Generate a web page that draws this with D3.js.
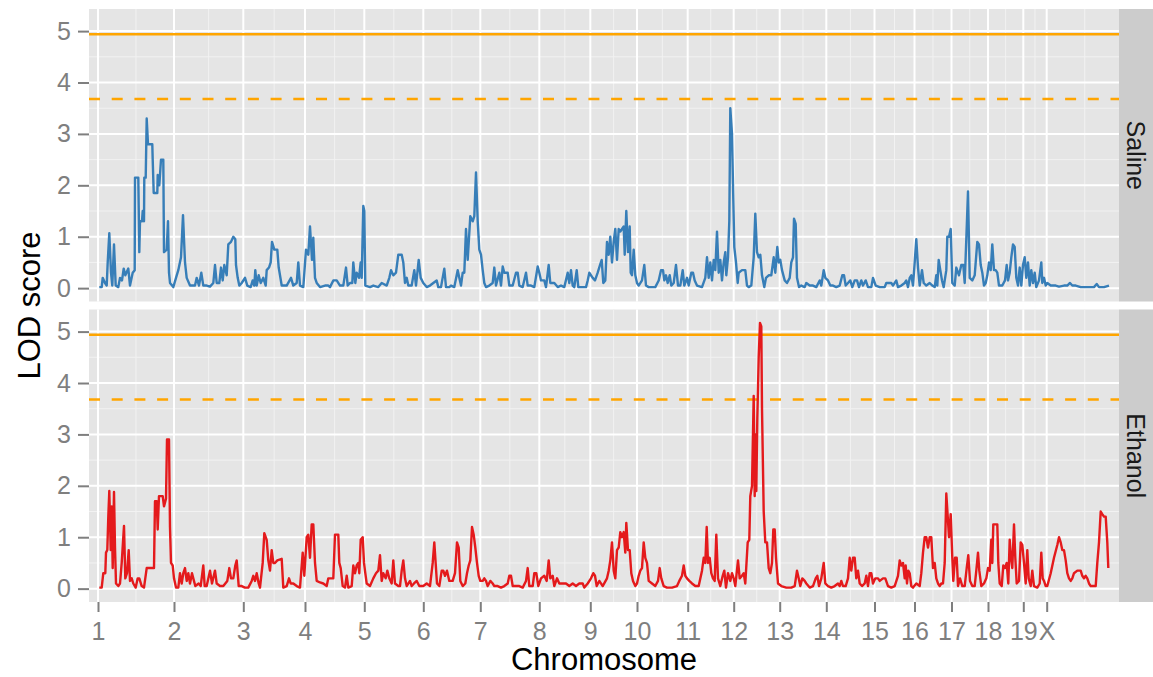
<!DOCTYPE html>
<html>
<head>
<meta charset="utf-8">
<script src="https://cdn.jsdelivr.net/npm/d3@7"></script>
<style>
  body { margin: 0; background: #fff; }
  text { font-family: "Liberation Sans", Arial, Helvetica, sans-serif; }
</style>
</head>
<body>
<svg id="chart"></svg>
<script>
// chromosome names and genetic lengths (cM), in plotting order
const chromosomes = ['1', '2', '3', '4', '5', '6', '7', '8', '9', '10', '11', '12', '13', '14', '15', '16', '17', '18', '19', 'X'];
const chrLengths = [76, 69.3, 61.7, 59.3, 59, 57, 59, 51, 46.7, 50.7, 46, 46, 46.6, 48.2, 40, 37, 36.5, 35.3, 23.4, 62.5];

const yTicks = [0, 1, 2, 3, 4, 5];
// genome-wide significance thresholds (solid = 5%, dashed = 20%)
const thresholdLevels = [4.94, 3.68];

// genome scan, [genome position (cM), LOD]
const salineScan = [
  [1.3,0.02],[3.7,0.02],[4.7,0.2],[7,0.1],[8.7,0.05],[9.7,0.5],[11.3,1.07],[13,0.3],[14.3,0.05],[16,0.85],[17.7,0.05],[20.3,0.02],[22,0.2],[24,0.15],[25.7,0.38],[27.3,0.25],[30.3,0.38],[32,0.05],[34.7,0.3],[36.7,0.35],[37,2.15],[40.3,2.15],[41.3,0.7],[42,1.3],[44,1.3],[44.7,1.5],[46,1.3],[46.3,2.15],[47.7,2.15],[48.7,3.3],[50,2.8],[54.3,2.8],[54.7,2.5],[55.7,1.85],[59.3,1.85],[59.7,2.2],[61.3,2.0],[63,2.5],[65.3,2.5],[66,0.7],[68.7,0.75],[70,1.3],[71,0.3],[72,0.1],[75.3,0.02],[78,0.2],[80.3,0.35],[83,0.6],[85,1.42],[87,0.5],[88.7,0.2],[92,0.05],[97,0.05],[98.7,0.2],[101,0.05],[103.3,0.3],[105.3,0.05],[108.7,0.05],[112,0.03],[115.3,0.1],[117,0.45],[118.7,0.1],[121.3,0.1],[123,0.4],[124.7,0.15],[126.3,0.45],[128.7,0.25],[130.3,0.85],[133,0.9],[135.3,1.0],[137.3,0.95],[138,0.45],[139.7,0.2],[141.3,0.05],[143.7,0.1],[147,0.2],[149.3,0.05],[152.7,0.02],[154.7,0.15],[156.3,0.05],[157.3,0.35],[158.7,0.05],[160.7,0.25],[162.7,0.1],[165.3,0.2],[167.7,0.05],[168.7,0.35],[171,0.4],[172.7,0.5],[174,0.9],[176.3,0.75],[179.3,0.75],[180.7,0.4],[183.7,0.05],[188.7,0.05],[193,0.2],[195.3,0.05],[198.7,0.1],[200.3,0.5],[202,0.05],[205.3,0.02],[208,0.75],[210.3,0.65],[212,1.2],[214,0.55],[215.3,0.98],[217,0.2],[218.7,0.1],[222,0.02],[227,0.05],[230.3,0.05],[232,0.02],[235.3,0.15],[238.7,0.15],[242,0.05],[245.3,0.05],[248,0.4],[249.7,0.05],[252,0.1],[254.3,0.1],[255.3,0.5],[257.3,0.1],[258.7,0.3],[261,0.2],[262.7,0.5],[263.7,0.2],[265.3,1.6],[266.3,1.5],[267.3,0.05],[272,0.02],[275.3,0.05],[280.3,0.02],[283.7,0.1],[288.7,0.05],[291.3,0.2],[293,0.35],[295.3,0.25],[298,0.3],[300.3,0.65],
  [303.7,0.65],[305.3,0.5],[307,0.1],[308.7,0.2],[310.3,0.05],[313.7,0.05],[316.3,0.35],[318,0.05],[320.7,0.55],[322.7,0.2],[325.3,0.1],[328.7,0.02],[332,0.05],[335.3,0.1],
  [338.7,0.15],[340.3,0.02],[343,0.02],[346.3,0.38],[348,0.02],[351.3,0.02],[353,0.05],[356.3,0.02],[359.7,0.35],[361.3,0.2],[363,0.05],[364.7,0.3],[366.3,0.3],[368,1.15],[369.7,0.55],[372.3,1.4],[374.7,1.3],[376.3,1.4],[378,2.25],[379.7,1.3],[381.3,0.75],[383,0.65],[384.7,0.35],[386.3,0.1],[388,0.02],[391.3,0.05],[394.7,0.1],[396.3,0.4],[398,0.05],[401.3,0.3],[403,0.05],[404.7,0.42],[406.3,0.3],[409.7,0.3],[411.3,0.05],[414.7,0.05],[418,0.3],[419.7,0.3],[421.3,0.05],[424.7,0.02],[428,0.3],[429.7,0.05],[433,0.05],[436.3,0.02],[439.7,0.42],[441.3,0.3],[443,0.15],[446.3,0.15],[448,0.02],[450.7,0.45],[452.3,0.1],[456.3,0.1],[459.7,0.02],[463,0.05],[466.3,0.02],[469.7,0.3],[471.3,0.1],[473,0.35],[474.7,0.05],[476.3,0.02],[478.7,0.35],[480.3,0.02],[483,0.02],[488,0.02],[489.7,0.15],[491.3,0.3],[494.7,0.2],[497,0.15],[499.7,0.3],[502,0.45],[503.7,0.55],[505.3,0.1],[507.3,0.15],[509,0.9],
  [510.7,0.65],[512.3,1.0],[514,0.5],[515.7,0.9],[517.3,1.15],[519,0.55],[520.7,1.15],[522.3,1.1],[524,1.15],[525.7,1.2],[526.7,0.65],[528.3,1.5],[530,0.7],[531.7,1.2],[532.7,0.3],[534,0.25],[535.7,0.75],[537.3,0.25],[539,0.1],[540.7,0.05],[544,0.15],[546.3,0.45],[548,0.05],[550.7,0.02],[557.3,0.02],[560.7,0.15],[563,0.35],[565,0.35],[566.3,0.15],[568,0.25],[569.7,0.1],[571.7,0.25],[573.3,0.05],[575.7,0.1],[578,0.45],[580,0.05],[582.3,0.05],[584.7,0.35],[586.3,0.05],[589,0.2],[590.7,0.05],[593.3,0.3],[595,0.3],[596.7,0.15],[599,0.05],[604,0.02],[607.3,0.2],[609,0.6],[610.7,0.2],[612.3,0.5],[614,0.15],[615.7,0.55],[617.3,0.35],[619,1.1],[620.7,0.3],[622.3,0.55],[624,0.15],[625.7,0.5],[627.3,0.7],[628.3,0.25],[630,0.6],[631.3,1.3],[632.3,3.5],[634,3.0],[635,2.0],[636.3,0.8],[638,0.5],[639.7,0.1],[640.7,0.3],[644,0.35],[647.3,0.35],[649,0.05],[650.7,0.02],[653.3,0.05],[655.7,0.6],[657.3,1.45],[659,0.7],[660.7,0.6],[662.3,0.65],[664,0.25],[666.3,0.02],[668,0.2],[670.7,0.25],[673.3,0.25],[675.7,0.6],[677.3,0.3],
  [679.3,0.8],[680.7,0.5],[682.3,0.55],[684,0.35],[686.7,0.15],[689,0.1],[691.7,0.2],[693.3,0.5],[695,0.6],[696,1.35],[697.7,1.25],[699,0.2],[701,0.02],[703.3,0.05],[706.7,0.02],[708.3,0.1],[711.7,0.05],[715,0.05],[718.3,0.02],[721.7,0.15],[723.3,0.05],[725.7,0.35],[727.3,0.2],[730,0.15],[732.3,0.05],[735,0.05],[738.3,0.02],[741.7,0.05],[744.3,0.25],[746,0.25],[747.7,0.05],[750,0.1],[752.3,0.15],[754.3,0.02],[756.7,0.15],[759,0.15],[761,0.02],[763.3,0.15],[765,0.05],[767.7,0.15],[770,0.02],[773.3,0.02],[775,0.2],[777.7,0.05],[781.7,0.02],[786.7,0.02],[788.3,0.1],[793.3,0.1],[795,0.05],[798.3,0.15],[800,0.02],[803.3,0.05],[806.7,0.1],[808.3,0.15],[810,0.02],[811.7,0.2],[813.3,0.25],[815,0.05],[816.7,0.5],[818.3,0.95],[820,0.4],[821.7,0.05],[824,0.35],[825.7,0.1],[828.3,0.05],[831.7,0.1],[834.3,0.05],[836.7,0.02],[838.3,0.25],[839.3,0.05],[840.7,0.55],[842.3,0.35],[844,0.15],[845.7,0.02],[848.3,0.35],[849.3,1.0],
  [851,1.0],[852.7,1.15],[854.3,0.1],[856.7,0.05],[858.3,0.4],[861,0.25],[863.3,0.45],[865.3,0.45],[866.7,0.1],[868.3,0.95],[870,1.88],[871.7,0.2],[874.3,0.15],[876.7,0.25],[877.7,0.5],[879.3,0.9],[881,0.85],[882.7,0.45],[884.3,0.3],[886,0.05],[887.7,0.1],[889.3,0.25],[891,0.5],[892.7,0.35],[894.3,0.85],[896,0.35],[897.7,0.35],[899.3,0.3],[901,0.05],[904.3,0.05],[907,0.15],[908.7,0.45],[910,0.15],[911.7,0.3],[913.3,0.6],[915,0.85],[916.7,0.8],[918.3,0.2],[920,0.05],[921.7,0.4],[923.3,0.05],[925,0.45],[926.7,0.6],[928.3,0.2],[930,0.5],[931.7,0.05],[933.3,0.35],[935,0.1],[936.7,0.3],[938.3,0.02],[941,0.15],[943.3,0.5],[944.3,0.1],[946,0.2],[947.7,0.05],[949.3,0.1],[952.7,0.05],[957.7,0.05],[961,0.03],[966,0.05],[969.3,0.05],[972,0.1],[974.3,0.05],[977.7,0.05],[982.7,0.02],[992.7,0.02],[996,0.02],[998.7,0.08],[1001,0.02],[1006,0.02],[1011,0.05]
];

const ethanolScan = [
  [1.3,0.02],[3.7,0.02],[5.3,0.3],[7.3,0.3],[8,0.7],[9.3,0.75],[10.3,1.4],[11.3,1.9],[12.7,0.75],[13.7,1.6],[14.7,0.4],[16,1.88],[17,0.8],[18,0.1],[20.3,0.05],[22,0.1],[23.7,0.5],[26,1.22],[27.3,0.2],[29,0.3],[30.7,0.75],[32,0.15],[33.7,0.2],[35.3,0.1],[37.7,0.02],[39.7,0.2],[41.3,0.2],[43.7,0.05],[46,0.02],[48.7,0.4],[53.7,0.4],[56,0.4],[57,1.7],[58.7,1.7],[59.7,1.15],[61,1.8],[62.7,1.8],[64.7,1.8],[66,1.6],[68,1.75],[69,2.9],[71,2.9],[72,1.2],[73,0.5],[74.7,0.45],[76,0.2],[78,0.02],[80.3,0.02],[82,0.3],[83.7,0.1],[85.3,0.3],[87,0.4],[88.7,0.15],[90.3,0.3],[92,0.1],[94,0.3],[95.3,0.2],[97.3,0.05],[100.7,0.1],[102.7,0.05],[105.3,0.45],[106.7,0.05],[108.7,0.05],[112,0.35],[114,0.1],[117,0.35],[118.7,0.1],[122,0.05],[125.3,0.05],[129.3,0.15],[131.3,0.4],[133,0.2],[135.3,0.2],[137.3,0.45],[138.7,0.55],[140.7,0.05],[143.7,0.05],[147,0.02],[150.3,0.02],[153.7,0.15],[155.3,0.25],[157,0.15],[158.7,0.3],[160.7,0.1],[162,0.02],[164.7,0.5],[166.3,1.08],[168.7,0.95],[170.3,0.55],[172,0.35],[173.7,0.75],[175.3,0.5],[177,0.5],[179.3,0.55],[183.7,0.58],[185.3,0.02],[188.7,0.05],[191,0.2],[192.7,0.1],[195.3,0.1],[198.7,0.05],[202,0.02],[204.7,0.7],[206.3,0.25],[208.7,1.0],[210.3,1.05],[212,0.6],[213.7,1.25],[215.3,1.25],[217,0.5],[218.7,0.15],[222,0.12],[225.3,0.1],[228.7,0.05],[230.3,0.2],[233.7,0.2],[235.3,0.2],[237,1.05],[240.3,1.05],[241.3,0.5],[242.7,0.4],[244.7,0.05],[247,0.02],[248.7,0.25],[250.3,0.02],[253.7,0.05],[255.3,0.45],[257,0.3],[258.7,0.45],[260.3,0.5],[261.3,0.3],[262.7,0.95],[264.7,1.0],[266,0.5],[267.3,0.3],[268.7,0.1],[272,0.05],[275.3,0.2],[278,0.3],[280.3,0.35],[282,0.65],[283.7,0.15],[285.3,0.3],[287.7,0.2],[289.3,0.35],[291.3,0.2],[293.7,0.1],[295.3,0.55],[297,0.1],[300.3,0.05],
  [302,0.05],[303.7,0.35],[305.3,0.55],[307,0.2],[308.7,0.05],[312,0.15],[313.7,0.05],[316,0.1],[318.7,0.15],[321.3,0.05],[325.3,0.05],[328.7,0.1],[332,0.05],[334.7,0.5],[336.3,0.9],
  [339,0.1],[341.3,0.05],[343.7,0.35],[345.3,0.35],[347,0.25],[349,0.35],[351.3,0.15],[354.7,0.15],[357,0.3],[359,0.9],[360.7,0.8],[362.3,0.15],[364.7,0.05],[367.3,0.1],[369,0.3],[370.7,0.45],[372.3,0.55],[374,1.2],[375.7,1.05],[377.3,0.8],[379,0.5],[380.7,0.25],[382.3,0.15],[384.7,0.15],[386.3,0.2],[388,0.15],[389.7,0.05],[392.3,0.15],[394.7,0.1],[396.3,0.05],[399.7,0.05],[403,0.02],[406.3,0.05],[409.7,0.1],[411.3,0.25],[413,0.25],[414.7,0.05],[418,0.05],[421.3,0.05],[424.7,0.02],[428,0.15],[429.7,0.4],[431.3,0.05],[434.7,0.05],[436.3,0.3],[438.3,0.3],[440.3,0.05],[443,0.2],[446.3,0.25],[448.7,0.15],[450.7,0.55],[452.3,0.2],[454.7,0.25],[456.3,0.05],[459,0.2],[461.3,0.1],[464.7,0.1],[468,0.1],[471.3,0.05],[474.7,0.1],[478,0.05],[481.3,0.1],[484.7,0.1],[486.3,0.02],[489.7,0.1],[493,0.2],[495.3,0.3],[497,0.25],[498.7,0.05],[501.3,0.15],[504.7,0.05],
  [509,0.2],[510.7,0.35],[512.3,0.55],[514,0.9],[515.7,0.35],[517.3,0.2],[519,0.75],[520.7,0.8],[522.3,1.1],[524,1.0],[525.7,1.1],[527.3,0.7],[528.3,1.28],[530,0.75],[531.7,0.75],[533.3,0.3],[535,0.15],[537.3,0.05],[539,0.1],[540.7,0.25],[542.3,0.35],[544,0.4],[545.7,0.9],[547.3,0.6],[549,0.5],[550.7,0.15],[554,0.1],[557.3,0.05],[560,0.15],[561.7,0.4],[563.3,0.2],[565.7,0.05],[569,0.02],[574,0.02],[579,0.05],[581.3,0.15],[584,0.25],[585.7,0.45],[587.3,0.25],[589,0.2],[591.3,0.15],[594,0.1],[597.3,0.05],[600.7,0.05],[604,0.35],[605.7,0.6],[607.3,0.5],[608.7,1.2],[610,0.5],[611.7,0.6],[613.3,0.3],[615,0.2],[616.7,0.15],[618.3,1.05],[620,0.2],[622.3,0.05],[624.7,0.25],[626.3,0.35],[628,0.02],[630,0.3],[632.3,0.15],[634,0.3],[635.7,0.2],[637.3,0.05],[640,0.55],[641.7,0.2],[644,0.25],[645.7,0.3],[647.3,0.1],[649.7,0.9],[651.3,0.95],[652.3,1.8],[654,2.0],[655.7,3.75],[656.7,1.8],[657.3,3.0],[658.3,1.9],[659.3,3.3],[660.7,4.5],[662,5.17],[663.3,5.1],[664,3.5],[665.7,1.5],[667.3,0.9],[669,0.9],[670.7,0.4],[672.3,0.3],[674,0.5],[675.3,1.15],[676.7,1.15],[678,0.6],
  [680,0.1],[683.3,0.05],[688.3,0.02],[693.3,0.02],[696.7,0.05],[699,0.35],[700.7,0.2],[702.3,0.05],[704.3,0.2],[706.7,0.15],[708.3,0.1],[711.7,0.02],[715,0.05],[717.7,0.2],[719.3,0.25],[721,0.05],[723.3,0.2],[725.7,0.5],[727.3,0.1],[730,0.05],[733.3,0.02],[736.7,0.05],[740,0.1],[741.7,0.05],[743.3,0.15],[745,0.05],[747.7,0.05],[750,0.2],[751.7,0.6],[753.3,0.35],[755,0.6],[756.7,0.6],[758.3,0.2],[760,0.35],[761.7,0.1],[764,0.05],[766.7,0.1],[768.3,0.25],[770,0.05],[771.7,0.3],[773.3,0.3],[775,0.1],[777.3,0.2],[780,0.2],[781.7,0.15],[785,0.2],[787.3,0.2],[790,0.05],[793.3,0.02],[796.7,0.05],[800,0.25],[801.7,0.55],[803.3,0.45],[805,0.5],[806.7,0.2],[807.7,0.45],[809,0.1],[810.3,0.35],[811.7,0.3],[813.3,0.05],[815,0.02],[818.3,0.1],[821.7,0.05],[823.3,0.3],[825,0.7],[826.7,1.0],[828.3,1.0],[830,0.8],[831.7,1.0],[833.3,1.0],[835,0.4],[836.7,0.5],[838.3,0.2],[840,0.1],[841.7,0.05],[843.3,0.1],[845,0.1],[846.7,0.5],[848.3,1.85],
  [851,1.0],[852.7,1.45],[854.3,0.6],[855.3,0.15],[857,0.6],[858.7,0.6],[860,0.05],[862,0.2],[864.3,0.05],[866.7,0.05],[868.7,0.4],[870.3,0.65],[872,0.15],[874.3,0.05],[876.7,0.05],[878.3,0.35],[880,0.7],[881.3,0.35],[883.3,0.05],[886,0.1],[888.3,0.2],[890,0.4],[891.7,0.35],[893.3,0.95],[894.3,0.5],[895.3,1.25],[897.7,1.25],[899.3,1.25],[900.3,0.5],[901.7,0.1],[903.7,0.05],[905.3,0.45],[907,0.4],[908.7,0.5],[910.3,0.1],[911.7,0.95],[913,0.6],[914.3,0.4],[916,1.25],[917.3,0.6],[918.7,0.1],[921,0.15],[922.7,0.9],[924.3,0.85],[926,0.5],[927.7,0.1],[929.3,0.75],[930.7,0.2],[932.7,0.05],[934.3,0.35],[936,0.05],[939.3,0.02],[941.7,0.1],[943.3,0.7],[944.7,0.2],[946,0.15],[947.7,0.05],[949.3,0.05],[952.7,0.3],[956,0.6],[959.3,0.85],[961,1.0],[962.7,0.9],[964.3,0.75],[966,0.75],[967.7,0.55],[969.3,0.3],[971,0.2],[972.7,0.15],[974.3,0.2],[976,0.3],[979.3,0.35],[982.7,0.35],[984.3,0.25],[986,0.2],[987.7,0.25],[989.3,0.2],[991,0.1],[992.7,0.05],[996,0.05],[997.7,0.05],[999.3,0.5],[1001,0.9],[1002.7,1.5],[1004.3,1.45],[1006,1.4],[1007.7,1.4],[1009.3,0.9],[1010.3,0.4]
];

const facets = [
  { name: 'Saline', scan: salineScan, color: '#377EB8' },
  { name: 'Ethanol', scan: ethanolScan, color: '#E41A1C' }
];

const width = 1153;
const height = 677;
const margin = { top: 9, right: 34, bottom: 75, left: 89 };
const panelGap = 8;
const panelW = width - margin.left - margin.right;
const panelH = (height - margin.top - margin.bottom - panelGap) / 2;

const tickFont = 25;
const titleFont = 31;
const greyText = '#7F7F7F';

const svg = d3.select('#chart')
  .attr('width', width)
  .attr('height', height);

// chromosome start positions on the genome-wide axis
const chrStarts = Array.from(d3.cumsum([0, ...chrLengths.slice(0, -1)]));

const x = d3.scaleLinear()
  .domain([-9, 1021])
  .range([0, panelW]);

const y = d3.scaleLinear()
  .domain([-0.26, 5.43])
  .range([panelH, 0]);

// minor breaks sit halfway between majors (ggplot style, one step beyond the last)
const step = chrStarts[1] - chrStarts[0];
const xMinor = d3.pairs([...chrStarts, chrStarts[chrStarts.length - 1] + step])
  .map(([a, b]) => (a + b) / 2)
  .filter(v => v > x.domain()[0] && v < x.domain()[1]);
const yMinor = d3.pairs(yTicks).map(([a, b]) => (a + b) / 2);

const line = d3.line()
  .x(d => x(d[0]))
  .y(d => y(d[1]));

facets.forEach((facet, i) => {
  const g = svg.append('g')
    .attr('transform', `translate(${margin.left},${margin.top + i * (panelH + panelGap)})`);

  g.append('rect')
    .attr('width', panelW)
    .attr('height', panelH)
    .attr('fill', '#E5E5E5');

  // minor grid
  g.selectAll('.vminor')
    .data(xMinor)
    .enter()
    .append('line')
    .attr('x1', d => x(d)).attr('x2', d => x(d))
    .attr('y1', 0).attr('y2', panelH)
    .attr('stroke', '#F2F2F2')
    .attr('stroke-width', 1);

  g.selectAll('.hminor')
    .data(yMinor)
    .enter()
    .append('line')
    .attr('x1', 0).attr('x2', panelW)
    .attr('y1', d => y(d)).attr('y2', d => y(d))
    .attr('stroke', '#F2F2F2')
    .attr('stroke-width', 1);

  // major grid
  g.selectAll('.vmajor')
    .data(chrStarts)
    .enter()
    .append('line')
    .attr('x1', d => x(d)).attr('x2', d => x(d))
    .attr('y1', 0).attr('y2', panelH)
    .attr('stroke', '#fff')
    .attr('stroke-width', 2);

  g.selectAll('.hmajor')
    .data(yTicks)
    .enter()
    .append('line')
    .attr('x1', 0).attr('x2', panelW)
    .attr('y1', d => y(d)).attr('y2', d => y(d))
    .attr('stroke', '#fff')
    .attr('stroke-width', 2);

  // thresholds
  g.selectAll('.threshold')
    .data(thresholdLevels)
    .enter()
    .append('line')
    .attr('x1', 0).attr('x2', panelW)
    .attr('y1', d => y(d)).attr('y2', d => y(d))
    .attr('stroke', '#FFA500')
    .attr('stroke-width', 2.6)
    .attr('stroke-dasharray', (d, j) => j === 0 ? null : '11,11.7');

  g.append('path')
    .datum(facet.scan)
    .attr('d', line)
    .attr('fill', 'none')
    .attr('stroke', facet.color)
    .attr('stroke-width', 2.4)
    .attr('stroke-linejoin', 'round');

  // y axis
  const yAxis = g.append('g')
    .call(d3.axisLeft(y).tickValues(yTicks).tickFormat(d3.format('d')).tickSize(11).tickPadding(7));
  yAxis.select('.domain').remove();
  yAxis.selectAll('line').attr('stroke', greyText).attr('stroke-width', 2);
  yAxis.selectAll('text')
    .attr('fill', greyText)
    .style('font-size', tickFont + 'px')
    .style('font-family', '"Liberation Sans", Arial, sans-serif');

  // facet strip
  g.append('rect')
    .attr('x', panelW)
    .attr('width', margin.right)
    .attr('height', panelH)
    .attr('fill', '#CCCCCC');

  g.append('text')
    .attr('transform', `translate(${panelW + margin.right / 2},${panelH / 2}) rotate(90)`)
    .attr('text-anchor', 'middle')
    .attr('dy', '0.35em')
    .attr('fill', '#1A1A1A')
    .style('font-size', tickFont + 'px')
    .text(facet.name);

  // x axis only under the bottom panel
  if (i === facets.length - 1) {
    const xAxis = g.append('g')
      .attr('transform', `translate(0,${panelH})`)
      .call(d3.axisBottom(x).tickValues(chrStarts).tickFormat((d, k) => chromosomes[k]).tickSize(10).tickPadding(10));
    xAxis.select('.domain').remove();
    xAxis.selectAll('line').attr('stroke', greyText).attr('stroke-width', 2);
    xAxis.selectAll('text')
      .attr('fill', greyText)
      .style('font-size', tickFont + 'px')
      .style('font-family', '"Liberation Sans", Arial, sans-serif');
  }
});

// axis titles
svg.append('text')
  .attr('x', margin.left + panelW / 2)
  .attr('y', 670)
  .attr('text-anchor', 'middle')
  .attr('fill', '#000')
  .style('font-size', titleFont + 'px')
  .text('Chromosome');

svg.append('text')
  .attr('transform', `translate(40,${margin.top + panelH + panelGap / 2}) rotate(-90)`)
  .attr('text-anchor', 'middle')
  .attr('fill', '#000')
  .style('font-size', titleFont + 'px')
  .text('LOD score');
</script>
</body>
</html>
